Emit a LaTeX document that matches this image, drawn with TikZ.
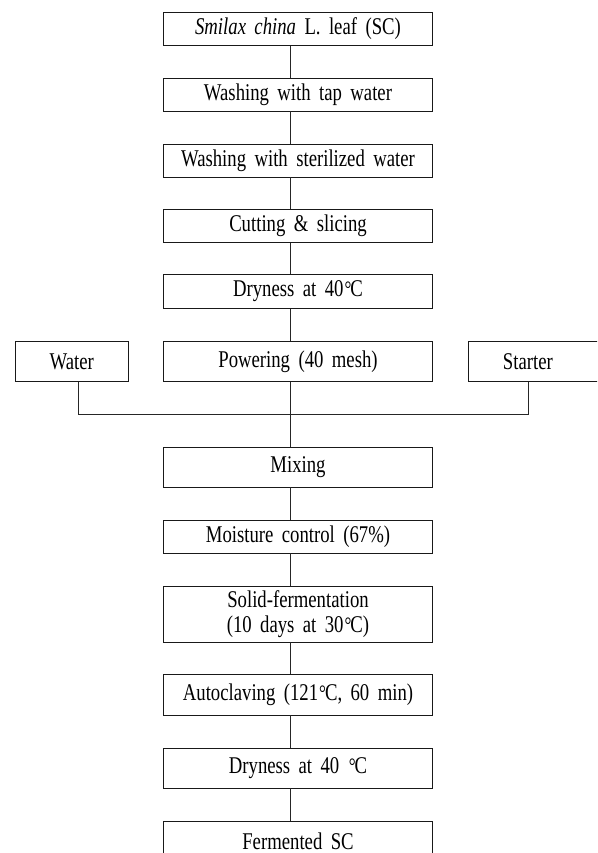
\documentclass[tikz,border=0pt]{standalone}
\usepackage{fontspec}
\setmainfont{Liberation Serif}[FakeStretch=0.78,WordSpace=1.8]
\newcommand{\degC}{\kern1pt{\fontsize{22}{25}\selectfont °}\kern-1pt C}
\begin{document}
\begin{tikzpicture}[x=1pt,y=1pt,
  box/.style={draw=black!90, line width=0.8pt, minimum width=269pt, inner sep=0pt,
    font=\fontsize{24}{25}\selectfont, align=center},
  sidebox/.style={draw=black!90, line width=0.8pt, minimum width=113pt, minimum height=40pt,
    inner sep=0pt, font=\fontsize{24}{25}\selectfont},
  conn/.style={draw=black!85, line width=0.8pt}]
\useasboundingbox (0,0) rectangle (597,853);
\clip (0,0) rectangle (597,853);
% main column
\node[box, minimum height=33] (n1) at (298,824) {\textit{Smilax china} L. leaf (SC)};
\node[box, minimum height=33] (n2) at (298,758.5) {Washing with tap water};
\node[box, minimum height=33] (n3) at (298,692.5) {Washing with sterilized water};
\node[box, minimum height=33] (n4) at (298,627) {Cutting \& slicing};
\node[box, minimum height=33.5] (n5) at (298,561.5) {Dryness at 40\degC};
\node[box, minimum height=40] (n6) at (298,491.5) {Powering (40 mesh)};
\node[sidebox] (water) at (71.7,491.5) {Water};
\node[sidebox, anchor=west, minimum width=150pt, text width=150pt, align=left] (starter) at (467.5,491.5) {\makebox[120pt][c]{Starter}};
\node[box, minimum height=40] (n7) at (298,386) {Mixing};
\node[box, minimum height=33] (n8) at (298,316.5) {Moisture control (67\%)};
\node[box, minimum height=56] (n9) at (298,239) {Solid-fermentation\\(10 days at 30\degC)};
\node[box, minimum height=41] (n10) at (298,158.5) {Autoclaving (121\degC, 60 min)};
\node[box, minimum height=40] (n11) at (298,85) {Dryness at 40 \degC};
\node[box, minimum height=40, text depth=0pt] (n12) at (298,12) {Fermented SC};
% connector positions
\coordinate (sp) at (290,0);
\coordinate (wl) at (78.3,439);
\coordinate (stl) at (528.5,439);
\draw[conn] (n1.south -| sp) -- (n2.north -| sp);
\draw[conn] (n2.south -| sp) -- (n3.north -| sp);
\draw[conn] (n3.south -| sp) -- (n4.north -| sp);
\draw[conn] (n4.south -| sp) -- (n5.north -| sp);
\draw[conn] (n5.south -| sp) -- (n6.north -| sp);
\draw[conn] (n6.south -| sp) -- (n7.north -| sp);
\draw[conn] (water.south -| wl) -- (wl) -- (stl) -- (starter.south -| stl);
\draw[conn] (n7.south -| sp) -- (n8.north -| sp);
\draw[conn] (n8.south -| sp) -- (n9.north -| sp);
\draw[conn] (n9.south -| sp) -- (n10.north -| sp);
\draw[conn] (n10.south -| sp) -- (n11.north -| sp);
\draw[conn] (n11.south -| sp) -- (n12.north -| sp);
\end{tikzpicture}
\end{document}
